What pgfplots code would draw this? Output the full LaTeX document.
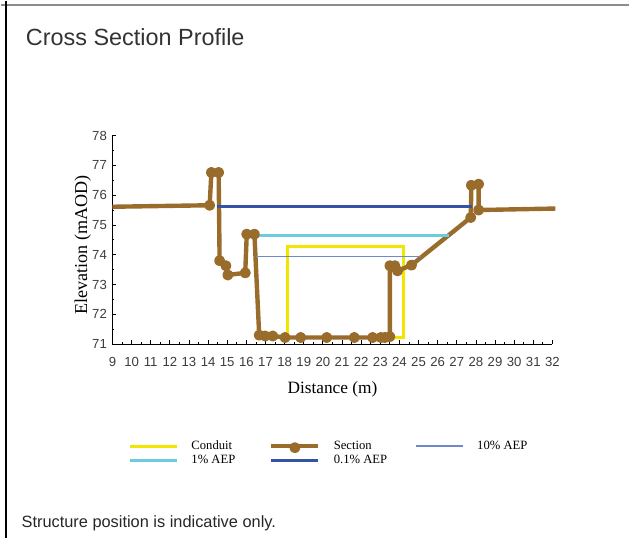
\documentclass[border=0pt]{standalone}
\usepackage{pgfplots}
\pgfplotsset{compat=1.18}
\usepackage{fontspec}
\setmainfont{Liberation Serif}
\setsansfont{Liberation Sans}

\definecolor{sectionbrown}{HTML}{996C2B}
\definecolor{conduityellow}{HTML}{F2E600}
\definecolor{aepone}{HTML}{6ACCDC}
\definecolor{aeppointone}{HTML}{3553A5}
\definecolor{aepten}{HTML}{7088CC}
\definecolor{ticktext}{HTML}{3C3C3C}

% ground profile of the cross section (distance m, elevation mAOD)
\pgfplotstableread{
x      y
9.00   75.61
14.08  75.66
14.17  76.76
14.55  76.76
14.60  73.80
14.93  73.63
15.03  73.32
15.94  73.39
16.02  74.69
16.42  74.69
16.67  71.30
16.98  71.27
17.38  71.27
18.02  71.22
18.84  71.22
20.20  71.22
21.64  71.22
22.60  71.22
23.03  71.22
23.24  71.22
23.50  71.25
23.50  73.63
23.76  73.63
23.90  73.46
24.63  73.65
27.73  75.25
27.76  76.33
28.14  76.37
28.14  75.50
32.15  75.55
}\sectiondata

\begin{document}
\begin{tikzpicture}
% page frame
\path (0,0) rectangle (472.5pt,-403.5pt);
\draw[black!45, line width=1.1pt] (0,-3pt) -- (472.5pt,-3pt);
\draw[black, line width=1.3pt] (3.75pt,0) -- (3.75pt,-403.5pt);
\node[anchor=base west, inner sep=0pt, font=\sffamily\fontsize{17.6}{20}\selectfont, text=black!80]
  at (18.75pt,-33.75pt) {Cross Section Profile};
\node[anchor=base west, inner sep=0pt, font=\sffamily\fontsize{12.3}{14}\selectfont, text=black!85]
  at (15.5pt,-396.2pt) {Structure position is indicative only.};

\begin{axis}[
  at={(84pt,-258pt)}, anchor=south west,
  scale only axis, width=330.75pt, height=156.75pt,
  xmin=9, xmax=32, ymin=71, ymax=78,
  clip=false,
  axis lines=left,
  axis line style={-, line width=0.8pt, black},
  xtick={9,...,32}, ytick={71,...,78},
  minor x tick num=1, minor y tick num=1,
  tick align=inside,
  major tick length=3pt, minor tick length=1.5pt,
  tick style={black, line width=0.6pt},
  /pgf/number format/assume math mode=true,
  tick label style={font=\sffamily\fontsize{9.9}{11}\selectfont, text=ticktext},
  xticklabel style={anchor=base, yshift=-16.5pt, inner sep=0pt},
  yticklabel style={anchor=east, inner sep=0pt, xshift=-4pt},
  xlabel={Distance (m)},
  ylabel={Elevation (mAOD)},
  label style={font=\fontsize{13}{15}\selectfont},
  x label style={at={(axis description cs:0.5,0)}, anchor=base, yshift=-37pt},
  y label style={at={(axis description cs:-0.0574,0.474)}, anchor=base,
    font=\fontsize{13.6}{15}\selectfont},
  legend columns=3,
  legend cell align=left,
  legend image code/.code={\draw[mark repeat=2,mark phase=2]
    plot coordinates {(0pt,0pt) (17.6pt,0pt) (35.2pt,0pt)};},
  legend style={
    at={(axis description cs:0.0363,-0.459)}, anchor=north west,
    draw=none, fill=none, inner sep=0pt, outer sep=0pt,
    font=\fontsize{9.5}{11}\selectfont,
    row sep=1pt,
    nodes={inner sep=0pt, text height=7pt, text depth=2.5pt},
    /tikz/every odd column/.append style={column sep=10pt},
    /tikz/column 2/.style={column sep=25.5pt},
    /tikz/column 4/.style={column sep=21.5pt},
  },
]
% culvert / conduit outline
\addplot[conduityellow, line width=2.2pt, no markers]
  coordinates {(18.15,71.22) (18.15,74.27) (24.20,74.27) (24.20,71.22) (18.15,71.22)};
\addlegendentry{Conduit}

% surveyed section (survey points marked, open ends unmarked)
\addplot[sectionbrown, line width=3.3pt, line join=round,
  mark=*, mark size=2.45pt, mark indices={2,...,29},
  mark options={fill=sectionbrown, draw=none},
  legend image post style={mark indices={2}, mark options={yshift=-1.2pt}}]
  table[x=x, y=y] {\sectiondata};
\addlegendentry{Section}

% water levels
\addplot[aepten, line width=1pt, no markers] coordinates {(16.50,73.93) (25.15,73.93)};
\addlegendentry{10\% AEP}

\addplot[aepone, line width=2.2pt, no markers] coordinates {(16.37,74.65) (26.58,74.65)};
\addlegendentry{1\% AEP}

\addplot[aeppointone, line width=2.2pt, no markers] coordinates {(14.46,75.61) (27.80,75.61)};
\addlegendentry{0.1\% AEP}
\end{axis}
\end{tikzpicture}
\end{document}
